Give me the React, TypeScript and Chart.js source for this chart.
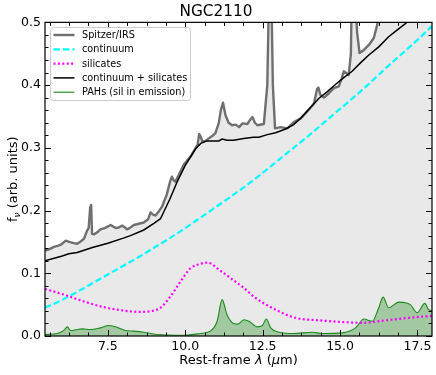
import React, { useEffect, useRef } from 'react';
import { Chart, registerables } from 'chart.js';

Chart.register(...registerables);

// ---------------- data ----------------
const titleText = 'NGC2110';
const xAxisRange = [5.47, 17.97];
const yAxisRange = [0, 0.5];
const xMajorTicks = [7.5, 10.0, 12.5, 15.0, 17.5];
const yMajorTicks = [0.0, 0.1, 0.2, 0.3, 0.4, 0.5];
const xMinorStep = 0.625;
const yMinorStep = 0.02;

const specX = [5.47, 5.6, 5.76, 5.9, 6.0, 6.14, 6.25, 6.4, 6.51, 6.6, 6.73, 6.83, 6.88, 6.93, 6.96, 6.99, 7.05, 7.15, 7.26, 7.4, 7.59, 7.75, 7.85, 7.96, 8.05, 8.12, 8.2, 8.34, 8.5, 8.66, 8.8, 8.88, 8.95, 9.04, 9.15, 9.25, 9.4, 9.52, 9.57, 9.63, 9.68, 9.8, 9.95, 10.05, 10.17, 10.33, 10.4, 10.45, 10.5, 10.55, 10.65, 10.76, 10.9, 10.97, 11.08, 11.15, 11.22, 11.3, 11.4, 11.51, 11.63, 11.74, 11.85, 12.01, 12.1, 12.17, 12.25, 12.33, 12.54, 12.65, 12.7, 12.78, 12.83, 12.9, 13.08, 13.3, 13.51, 13.73, 13.94, 14.1, 14.16, 14.26, 14.3, 14.37, 14.48, 14.64, 14.8, 14.96, 15.05, 15.12, 15.28, 15.35, 15.38, 15.48, 15.55, 15.63, 15.77, 15.93, 16.09, 16.2, 16.3, 16.6, 17.0, 17.5, 17.97];
const specY = [0.136, 0.138, 0.142, 0.144, 0.146, 0.152, 0.150, 0.148, 0.147, 0.150, 0.155, 0.168, 0.172, 0.205, 0.209, 0.163, 0.162, 0.165, 0.170, 0.172, 0.177, 0.172, 0.173, 0.176, 0.173, 0.170, 0.172, 0.177, 0.179, 0.181, 0.186, 0.197, 0.194, 0.192, 0.199, 0.206, 0.225, 0.248, 0.254, 0.248, 0.246, 0.258, 0.273, 0.279, 0.286, 0.299, 0.305, 0.322, 0.318, 0.310, 0.311, 0.315, 0.320, 0.323, 0.339, 0.360, 0.372, 0.352, 0.340, 0.336, 0.337, 0.333, 0.339, 0.338, 0.345, 0.349, 0.340, 0.336, 0.338, 0.400, 0.530, 0.550, 0.400, 0.331, 0.333, 0.331, 0.341, 0.347, 0.358, 0.367, 0.371, 0.394, 0.396, 0.384, 0.380, 0.387, 0.395, 0.398, 0.410, 0.422, 0.416, 0.450, 0.550, 0.550, 0.485, 0.451, 0.456, 0.464, 0.475, 0.496, 0.520, 0.540, 0.560, 0.580, 0.600];

const contX = [5.47, 6.0, 6.5, 7.0, 7.5, 8.0, 8.5, 9.0, 9.5, 10.0, 10.5, 11.0, 11.5, 12.0, 12.5, 13.0, 13.5, 14.0, 14.5, 15.0, 15.5, 16.0, 16.5, 17.0, 17.5, 17.97];
const contY = [0.045, 0.057, 0.070, 0.084, 0.098, 0.112, 0.126, 0.141, 0.156, 0.172, 0.189, 0.206, 0.223, 0.241, 0.260, 0.280, 0.300, 0.320, 0.341, 0.362, 0.383, 0.405, 0.428, 0.450, 0.472, 0.494];

const silX = [5.47, 6.08, 6.73, 7.37, 8.02, 8.5, 8.98, 9.2, 9.52, 9.85, 10.17, 10.49, 10.7, 10.85, 11.03, 11.46, 11.89, 12.27, 12.92, 13.56, 14.32, 15.18, 15.72, 16.47, 17.22, 17.97];
const silY = [0.075, 0.066, 0.055, 0.046, 0.0405, 0.0385, 0.0405, 0.045, 0.063, 0.087, 0.108, 0.115, 0.117, 0.115, 0.108, 0.0925, 0.0766, 0.0607, 0.042, 0.029, 0.025, 0.022, 0.021, 0.025, 0.029, 0.032];

const sumX = [5.47, 6.0, 6.24, 6.51, 7.0, 7.5, 8.0, 8.23, 8.66, 9.0, 9.2, 9.5, 9.74, 10.0, 10.33, 10.5, 10.7, 11.08, 11.19, 11.35, 11.56, 11.89, 12.2, 12.38, 12.65, 12.92, 13.24, 13.5, 13.73, 14.0, 14.32, 14.6, 14.85, 15.1, 15.39, 15.65, 15.93, 16.25, 16.57, 16.85, 17.11, 17.5, 17.97];
const sumY = [0.120, 0.127, 0.131, 0.133, 0.141, 0.148, 0.156, 0.160, 0.169, 0.180, 0.187, 0.218, 0.246, 0.272, 0.298, 0.307, 0.311, 0.311, 0.314, 0.312, 0.312, 0.315, 0.317, 0.317, 0.321, 0.324, 0.330, 0.337, 0.347, 0.362, 0.379, 0.390, 0.401, 0.411, 0.422, 0.435, 0.448, 0.461, 0.477, 0.488, 0.498, 0.515, 0.535];

const pahX = [5.47, 5.86, 6.08, 6.19, 6.3, 6.51, 6.67, 6.94, 7.26, 7.53, 7.75, 8.07, 8.34, 8.66, 9.09, 9.95, 10.49, 10.81, 11.03, 11.19, 11.35, 11.56, 11.7, 11.9, 12.06, 12.33, 12.49, 12.62, 12.76, 13.03, 13.51, 14.1, 14.43, 15.07, 15.5, 15.77, 16.04, 16.25, 16.39, 16.57, 16.9, 17.27, 17.49, 17.74, 17.86, 17.97];
const pahY = [0.0024, 0.004, 0.009, 0.0146, 0.0087, 0.0103, 0.0114, 0.0103, 0.013, 0.0167, 0.0146, 0.0087, 0.0077, 0.006, 0.0024, 0.0013, 0.004, 0.0077, 0.0235, 0.058, 0.034, 0.020, 0.019, 0.026, 0.0235, 0.0146, 0.0167, 0.027, 0.013, 0.006, 0.004, 0.006, 0.004, 0.005, 0.013, 0.027, 0.0235, 0.045, 0.062, 0.045, 0.054, 0.050, 0.037, 0.052, 0.042, 0.040];

const seriesLabels = ['Spitzer/IRS', 'continuum', 'silicates', 'continuum + silicates', 'PAHs (sil in emission)'];

// ---------------- styling ----------------
const FONT = "'DejaVu Sans', 'Liberation Sans', sans-serif";
const pts = (xs: number[], ys: number[]) => xs.map((x, i) => ({ x, y: ys[i] }));

const styles = [
  { color: '#6f6f6f', width: 2.4, dash: [] as number[] },
  { color: '#00ffff', width: 2.2, dash: [6.5, 3] },
  { color: '#ff00ff', width: 2.2, dash: [2, 2.4] },
  { color: '#000000', width: 1.5, dash: [] as number[] },
  { color: '#1a8a1a', width: 1.1, dash: [] as number[] },
];

const mplPlugin = {
  id: 'mplDecor',
  afterDraw(chart: any) {
    const { ctx, chartArea: a, scales } = chart;
    const xs = scales.x;
    const ys = scales.y;
    ctx.save();
    ctx.strokeStyle = '#000';
    ctx.lineWidth = 1;
    ctx.setLineDash([]);
    const majorLen = 6;
    const minorLen = 3.5;
    const drawX = (v: number, len: number) => {
      const px = Math.round(xs.getPixelForValue(v)) + 0.5;
      ctx.beginPath();
      ctx.moveTo(px, a.bottom);
      ctx.lineTo(px, a.bottom - len);
      ctx.moveTo(px, a.top);
      ctx.lineTo(px, a.top + len);
      ctx.stroke();
    };
    const drawY = (v: number, len: number) => {
      const py = Math.round(ys.getPixelForValue(v)) + 0.5;
      ctx.beginPath();
      ctx.moveTo(a.left, py);
      ctx.lineTo(a.left + len, py);
      ctx.moveTo(a.right, py);
      ctx.lineTo(a.right - len, py);
      ctx.stroke();
    };
    for (let k = Math.ceil(xAxisRange[0] / xMinorStep); k * xMinorStep <= xAxisRange[1]; k++) {
      drawX(k * xMinorStep, minorLen);
    }
    for (let k = 1; k * yMinorStep < yAxisRange[1] - 1e-9; k++) {
      drawY(k * yMinorStep, minorLen);
    }
    xMajorTicks.forEach((v) => drawX(v, majorLen));
    yMajorTicks.forEach((v) => drawY(v, majorLen));

    // frame
    ctx.lineWidth = 1.2;
    ctx.strokeRect(a.left, a.top, a.right - a.left, a.bottom - a.top);

    // x axis title
    ctx.fillStyle = '#000';
    ctx.textBaseline = 'alphabetic';
    const fs = 13;
    const parts = [
      { t: 'Rest-frame ', f: `${fs}px ${FONT}` },
      { t: 'λ', f: `italic ${fs}px ${FONT}` },
      { t: ' (', f: `${fs}px ${FONT}` },
      { t: 'μ', f: `italic ${fs}px ${FONT}` },
      { t: 'm)', f: `${fs}px ${FONT}` },
    ];
    let total = 0;
    parts.forEach((p) => { ctx.font = p.f; total += ctx.measureText(p.t).width; });
    let cx = (a.left + a.right) / 2 - total / 2;
    ctx.textAlign = 'left';
    parts.forEach((p) => { ctx.font = p.f; ctx.fillText(p.t, cx, 364); cx += ctx.measureText(p.t).width; });

    // y axis title
    ctx.save();
    ctx.translate(17, (a.top + a.bottom) / 2);
    ctx.rotate(-Math.PI / 2);
    const yparts = [
      { t: 'f', f: `${fs}px ${FONT}`, dy: 0 },
      { t: 'ν', f: `italic 9px ${FONT}`, dy: 2.5 },
      { t: ' (arb. units)', f: `${fs}px ${FONT}`, dy: 0 },
    ];
    total = 0;
    yparts.forEach((p) => { ctx.font = p.f; total += ctx.measureText(p.t).width; });
    cx = -total / 2;
    yparts.forEach((p) => { ctx.font = p.f; ctx.fillText(p.t, cx, p.dy); cx += ctx.measureText(p.t).width; });
    ctx.restore();

    // legend
    const bx = 50.5, by = 27.5, bw = 140, bh = 73, r = 3;
    ctx.beginPath();
    ctx.moveTo(bx + r, by);
    ctx.lineTo(bx + bw - r, by);
    ctx.arcTo(bx + bw, by, bx + bw, by + r, r);
    ctx.lineTo(bx + bw, by + bh - r);
    ctx.arcTo(bx + bw, by + bh, bx + bw - r, by + bh, r);
    ctx.lineTo(bx + r, by + bh);
    ctx.arcTo(bx, by + bh, bx, by + bh - r, r);
    ctx.lineTo(bx, by + r);
    ctx.arcTo(bx, by, bx + r, by, r);
    ctx.closePath();
    ctx.fillStyle = 'rgba(255,255,255,0.8)';
    ctx.fill();
    ctx.strokeStyle = '#cccccc';
    ctx.lineWidth = 1;
    ctx.stroke();
    ctx.font = `9.7px ${FONT}`;
    ctx.textBaseline = 'middle';
    ctx.textAlign = 'left';
    seriesLabels.forEach((lab, i) => {
      const yy = 35 + i * 14.3;
      const st = styles[i];
      ctx.strokeStyle = st.color;
      ctx.lineWidth = st.width;
      ctx.setLineDash(st.dash);
      ctx.beginPath();
      ctx.moveTo(53.5, yy);
      ctx.lineTo(74.5, yy);
      ctx.stroke();
      ctx.setLineDash([]);
      ctx.fillStyle = '#000';
      ctx.fillText(lab, 82, yy + 0.5);
    });
    ctx.restore();
  },
};

export default function App() {
  const ref = useRef<HTMLCanvasElement | null>(null);
  useEffect(() => {
    document.body.style.margin = '0';
    const canvas = ref.current;
    if (!canvas) return;
    const tickFont = { family: FONT, size: 12.5 };
    const chart = new Chart(canvas, {
      type: 'line',
      data: {
        datasets: [
          {
            label: seriesLabels[0],
            data: pts(specX, specY),
            borderColor: styles[0].color,
            borderWidth: styles[0].width,
            backgroundColor: '#e9e9e9',
            fill: 'origin',
            pointRadius: 0,
            tension: 0,
            borderJoinStyle: 'round',
            order: 5,
            clip: 0,
          },
          {
            label: seriesLabels[1],
            data: pts(contX, contY),
            borderColor: styles[1].color,
            borderWidth: styles[1].width,
            borderDash: styles[1].dash,
            fill: false,
            pointRadius: 0,
            cubicInterpolationMode: 'monotone',
            order: 4,
            clip: 0,
          },
          {
            label: seriesLabels[2],
            data: pts(silX, silY),
            borderColor: styles[2].color,
            borderWidth: styles[2].width,
            borderDash: styles[2].dash,
            fill: false,
            pointRadius: 0,
            cubicInterpolationMode: 'monotone',
            order: 2,
            clip: 0,
          },
          {
            label: seriesLabels[3],
            data: pts(sumX, sumY),
            borderColor: styles[3].color,
            borderWidth: styles[3].width,
            fill: false,
            pointRadius: 0,
            tension: 0,
            order: 1,
            clip: 0,
          },
          {
            label: seriesLabels[4],
            data: pts(pahX, pahY),
            borderColor: styles[4].color,
            borderWidth: styles[4].width,
            backgroundColor: 'rgba(0,128,0,0.3)',
            fill: 'origin',
            pointRadius: 0,
            cubicInterpolationMode: 'monotone',
            order: 3,
            clip: 0,
          },
        ],
      },
      options: {
        animation: false,
        responsive: false,
        devicePixelRatio: 1,
        events: [],
        layout: { padding: { left: 0, right: 4, top: 0, bottom: 0 } },
        plugins: {
          legend: { display: false },
          tooltip: { enabled: false },
          title: {
            display: true,
            text: titleText,
            color: '#000',
            font: { family: FONT, size: 15.3, weight: 'normal' },
            padding: { top: 3, bottom: 1 },
          },
        },
        scales: {
          x: {
            type: 'linear',
            min: xAxisRange[0],
            max: xAxisRange[1],
            afterBuildTicks: (s: any) => { s.ticks = xMajorTicks.map((v) => ({ value: v })); },
            afterFit: (s: any) => { s.height = 39; },
            ticks: {
              color: '#000',
              font: tickFont,
              padding: 3,
              maxRotation: 0,
              autoSkip: false,
              callback: (v: any) => Number(v).toFixed(1),
            },
            grid: { display: false, drawTicks: false },
            border: { display: false },
          },
          y: {
            type: 'linear',
            min: yAxisRange[0],
            max: yAxisRange[1],
            afterBuildTicks: (s: any) => { s.ticks = yMajorTicks.map((v) => ({ value: v })); },
            afterFit: (s: any) => { s.width = 45; },
            ticks: {
              color: '#000',
              font: tickFont,
              padding: 4,
              autoSkip: false,
              callback: (v: any) => Number(v).toFixed(1),
            },
            grid: { display: false, drawTicks: false },
            border: { display: false },
          },
        },
      },
      plugins: [mplPlugin],
    } as any);
    return () => chart.destroy();
  }, []);
  return (
    <div style={{ position: 'absolute', left: 0, top: 0, width: 436, height: 375, background: '#fff' }}>
      <canvas ref={ref} width={436} height={375} style={{ display: 'block', width: 436, height: 375 }} />
    </div>
  );
}
